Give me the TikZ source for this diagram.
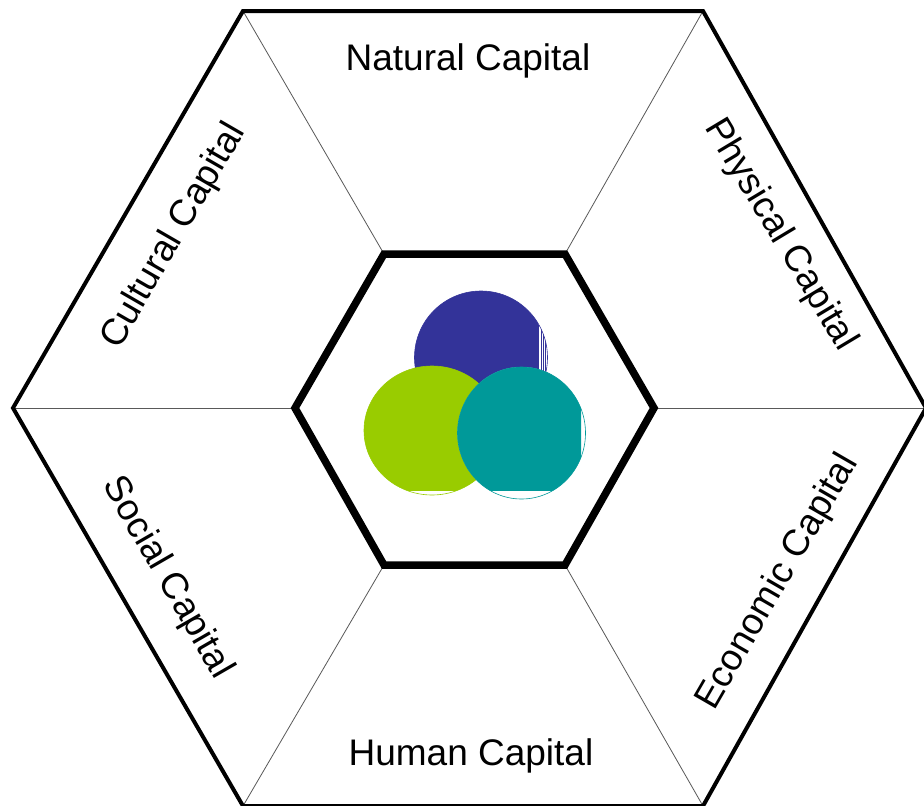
\documentclass[tikz,border=0pt]{standalone}
\usepackage{fontspec}
\setmainfont{Liberation Sans}
\definecolor{cblue}{HTML}{333399}
\definecolor{cgreen}{HTML}{99CC00}
\definecolor{cteal}{HTML}{009999}
\tikzset{
 lab/.style={font=\fontsize{37}{40}\selectfont,inner sep=0pt,text=black},
 outer/.style={line width=4pt,black,line join=miter},
 inner/.style={line width=7.5pt,black,line join=miter},
 spoke/.style={line width=0.8pt,black!65},
 ring/.style={line width=0.6pt}
}
\begin{document}
\begin{tikzpicture}[x=1pt,y=-1pt]
\useasboundingbox (0,0) rectangle (924,806);
\fill[white] (0,0) rectangle (924,806);
\coordinate (o1) at (243,11);\coordinate (o2) at (703,11);\coordinate (o3) at (926,408);
\coordinate (o4) at (703,806);\coordinate (o5) at (243,806);\coordinate (o6) at (13,408);
\coordinate (i1) at (384,254);\coordinate (i2) at (565,254);\coordinate (i3) at (654,408);
\coordinate (i4) at (565,565);\coordinate (i5) at (384,565);\coordinate (i6) at (295,408);
\foreach \n in {1,...,6}{\draw[spoke] (o\n)--(i\n);}
\draw[outer] (o1)--(o2)--(o3)--(o4)--(o5)--(o6)--cycle;
\draw[inner] (i1)--(i2)--(i3)--(i4)--(i5)--(i6)--cycle;
% blue disc
\draw[ring,cblue] (481,357.5) circle[radius=66.5];
\begin{scope}
\clip (400,280) rectangle (538,440);
\fill[cblue] (481,357.5) circle[radius=66.5];
\end{scope}
\begin{scope}
\clip (481,357.5) circle[radius=66.5];
\foreach \x in {538.5,541,543,545.5}{\draw[cblue,line width=0.5pt] (\x,280)--(\x,440);}
\end{scope}
% green disc
\draw[ring,cgreen] (432,430.5) ellipse[x radius=68,y radius=64.5];
\begin{scope}
\clip (350,350) rectangle (510,490);
\fill[cgreen] (432,430.5) ellipse[x radius=68,y radius=64.5];
\end{scope}
% teal disc
\fill[white] (521.5,433) ellipse[x radius=64,y radius=66];
\draw[ring,cteal] (521.5,433) ellipse[x radius=64,y radius=66];
\begin{scope}
\clip (440,350) rectangle (581,490);
\fill[cteal] (521.5,433) ellipse[x radius=64,y radius=66];
\end{scope}
\node[lab] (n1) at (468,61) {Natural Capital};
\node[lab,rotate=-59] (n2) at (780,235) {Physical Capital};
\node[lab,rotate=60] (n3) at (778,582) {Economic Capital};
\node[lab] (n4) at (471,756) {Human Capital};
\node[lab,rotate=-60] (n5) at (167,578) {Social Capital};
\node[lab,rotate=60] (n6) at (174,236) {Cultural Capital};
\end{tikzpicture}
\end{document}
